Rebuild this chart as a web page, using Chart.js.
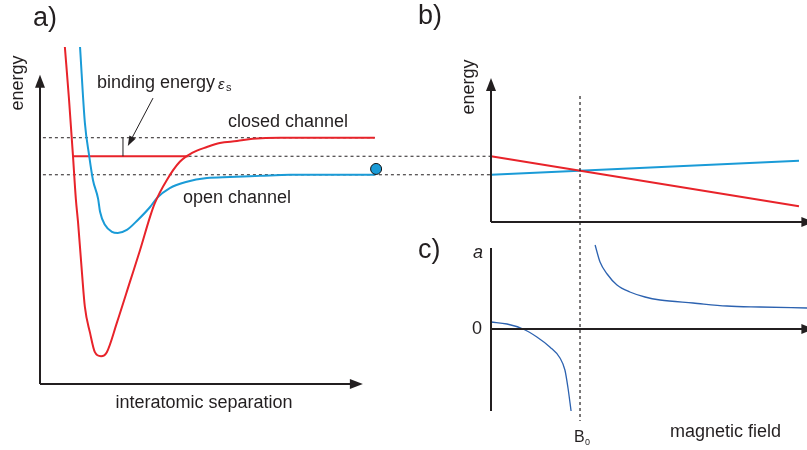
<!DOCTYPE html>
<html>
<head>
<meta charset="utf-8">
<script src="https://cdn.jsdelivr.net/npm/chart.js@4.4.1/dist/chart.umd.min.js"></script>
<style>
  html, body { margin: 0; padding: 0; background: #ffffff; }
  #wrap { position: relative; width: 807px; height: 450px; overflow: hidden; background: #ffffff; }
  #wrap canvas { position: absolute; left: 0; top: 0; }
</style>
</head>
<body>
<div id="wrap">
  <canvas id="panelA" width="807" height="450"></canvas>
  <canvas id="panelB" width="807" height="450"></canvas>
  <canvas id="panelC" width="807" height="450"></canvas>
</div>
<script>
// ---------- Panel a: molecular potentials vs. interatomic separation ----------
// energies in units where the open-channel threshold is 0 and the closed-channel threshold is 1
const closedSep    = [0.77, 0.90, 1.02, 1.11, 1.18, 1.30, 1.39, 1.55, 1.70, 1.89, 2.07, 2.38, 2.79, 3.10, 3.41, 3.56, 3.93, 4.33, 4.71, 5.17, 5.57, 6.10, 6.59, 7.43, 10.37];
const closedEnergy = [3.45, 2.02, 0.53, -0.65, -1.30, -2.65, -3.57, -4.27, -4.79, -4.90, -4.79, -4.00, -2.88, -2.03, -1.13, -0.76, -0.14, 0.35, 0.59, 0.75, 0.86, 0.91, 0.97, 1.00, 1.00];
const openSep      = [1.24, 1.39, 1.52, 1.64, 1.80, 1.86, 2.01, 2.23, 2.41, 2.69, 3.03, 3.41, 3.62, 4.02, 4.55, 5.17, 5.88, 6.81, 7.74, 10.37];
const openEnergy   = [3.45, 1.40, 0.53, -0.14, -0.65, -1.00, -1.35, -1.54, -1.57, -1.49, -1.22, -0.87, -0.63, -0.36, -0.19, -0.09, -0.06, -0.03, 0.00, 0.00];
const closedThreshold = 1.0;
const openThreshold   = 0.0;
const boundEnergy     = 0.5;
const boundSep        = [1.02, 4.60];       // bound molecular level inside the closed channel
const thresholdSepClosed = [0.09, 10.37];
const thresholdSepOpen   = [0.09, 13.96];
const boundDottedSep     = [4.60, 13.96];
const bindingMarkSep     = 2.57;
const bindingArrowFrom   = [3.50, 2.07];
const bindingArrowTo     = [2.72, 0.78];
const atomPair           = [10.41, 0.157];
const sepAxisEnd = 10.0, energyAxisTop = 2.70, energyAxisBottom = -5.65;

// ---------- Panel b: channel energies vs. magnetic field ----------
const fieldEnds     = [0, 10];
const closedVsField = [0.5, -0.85];
const openVsField   = [0.0, 0.38];
const resonanceField = 2.89;                 // B0

// ---------- Panel c: scattering length vs. magnetic field ----------
const lowBranchField  = [0, 0.52, 1.04, 1.49, 1.91, 2.24, 2.40, 2.50, 2.60];
const lowBranchA      = [0.35, 0.25, 0.00, -0.40, -0.90, -1.45, -2.05, -2.95, -4.10];
const highBranchField = [3.38, 3.54, 3.77, 4.09, 4.51, 5.00, 5.49, 6.56, 7.66, 8.73, 10.26];
const highBranchA     = [4.20, 3.35, 2.75, 2.20, 1.85, 1.60, 1.45, 1.30, 1.15, 1.10, 1.05];
const b0LineA = [11.65, -4.6];

// ---------- styling ----------
const RED = '#e8232a';
const CYAN = '#1a9bd7';
const NAVY = '#2c62b0';
const INK = '#231f20';
const FAMILY = '"Liberation Sans", Arial, Helvetica, sans-serif';

function pts(xs, ys) { return xs.map((x, i) => ({ x: x, y: ys[i] })); }

function curve(xs, ys, color, width, extra) {
  return Object.assign({
    data: pts(xs, ys), borderColor: color, borderWidth: width, pointRadius: 0,
    fill: false, clip: false, tension: 0, borderCapStyle: 'butt', order: 1
  }, extra || {});
}

function dotted(xs, ys) {
  return curve(xs, ys, INK, 1, { borderDash: [3, 3], order: 2 });
}

function arrowHead(ctx, x1, y1, x2, y2, len, half, color) {
  const a = Math.atan2(y2 - y1, x2 - x1);
  ctx.save();
  ctx.fillStyle = color;
  ctx.beginPath();
  ctx.moveTo(x2, y2);
  ctx.lineTo(x2 - len * Math.cos(a) + half * Math.sin(a), y2 - len * Math.sin(a) - half * Math.cos(a));
  ctx.lineTo(x2 - len * Math.cos(a) - half * Math.sin(a), y2 - len * Math.sin(a) + half * Math.cos(a));
  ctx.closePath();
  ctx.fill();
  ctx.restore();
}

function axisLine(ctx, x1, y1, x2, y2, withHead) {
  ctx.save();
  ctx.strokeStyle = INK;
  ctx.lineWidth = 2;
  const a = Math.atan2(y2 - y1, x2 - x1);
  const back = withHead ? 10 : 0;
  ctx.beginPath();
  ctx.moveTo(x1, y1);
  ctx.lineTo(x2 - back * Math.cos(a), y2 - back * Math.sin(a));
  ctx.stroke();
  ctx.restore();
  if (withHead) arrowHead(ctx, x1, y1, x2, y2, 13, 5, INK);
}

function text(ctx, str, x, y, size, opts) {
  opts = opts || {};
  ctx.save();
  ctx.font = (opts.style || '') + ' ' + size + 'px ' + FAMILY;
  ctx.fillStyle = INK;
  ctx.textAlign = opts.align || 'left';
  ctx.textBaseline = opts.baseline || 'alphabetic';
  if (opts.rotate) {
    ctx.translate(x, y);
    ctx.rotate(opts.rotate);
    ctx.fillText(str, 0, 0);
  } else {
    ctx.fillText(str, x, y);
  }
  ctx.restore();
}

function makeChart(id, padding, xRange, yRange, datasets, drawExtras) {
  return new Chart(document.getElementById(id), {
    type: 'line',
    data: { datasets: datasets },
    options: {
      responsive: false,
      animation: false,
      events: [],
      layout: { padding: padding },
      plugins: { legend: { display: false }, tooltip: { enabled: false }, title: { display: false } },
      scales: {
        x: { type: 'linear', min: xRange[0], max: xRange[1], display: false },
        y: { type: 'linear', min: yRange[0], max: yRange[1], display: false }
      }
    },
    plugins: [{
      id: 'schematicExtras',
      afterDatasetsDraw(chart) { drawExtras(chart.ctx, chart.scales.x, chart.scales.y); }
    }]
  });
}

// ---------- panel a ----------
makeChart('panelA', { left: 40, right: 315, top: 47, bottom: 66 }, [0, 14], [-5.65, 3.45], [
  {
    data: [{ x: atomPair[0], y: atomPair[1] }], showLine: false, pointRadius: 5.5,
    pointBackgroundColor: CYAN, pointBorderColor: '#111', pointBorderWidth: 1, clip: false, order: 0
  },
  curve(closedSep, closedEnergy, RED, 2, { cubicInterpolationMode: 'monotone' }),
  curve(openSep, openEnergy, CYAN, 2, { cubicInterpolationMode: 'monotone' }),
  curve(boundSep, [boundEnergy, boundEnergy], RED, 2),
  dotted(thresholdSepClosed, [closedThreshold, closedThreshold]),
  dotted(boundDottedSep, [boundEnergy, boundEnergy]),
  dotted(thresholdSepOpen, [openThreshold, openThreshold])
], function (ctx, x, y) {
  // axes
  axisLine(ctx, x.getPixelForValue(0), y.getPixelForValue(energyAxisBottom), x.getPixelForValue(0), y.getPixelForValue(energyAxisTop), true);
  axisLine(ctx, x.getPixelForValue(0), y.getPixelForValue(energyAxisBottom), x.getPixelForValue(sepAxisEnd), y.getPixelForValue(energyAxisBottom), true);

  // binding energy bracket and pointer
  ctx.save();
  ctx.strokeStyle = INK; ctx.lineWidth = 1;
  ctx.beginPath();
  ctx.moveTo(x.getPixelForValue(bindingMarkSep), y.getPixelForValue(boundEnergy));
  ctx.lineTo(x.getPixelForValue(bindingMarkSep), y.getPixelForValue(closedThreshold));
  ctx.stroke();
  const ax1 = x.getPixelForValue(bindingArrowFrom[0]), ay1 = y.getPixelForValue(bindingArrowFrom[1]);
  const ax2 = x.getPixelForValue(bindingArrowTo[0]), ay2 = y.getPixelForValue(bindingArrowTo[1]);
  const ang = Math.atan2(ay2 - ay1, ax2 - ax1);
  ctx.beginPath();
  ctx.moveTo(ax1, ay1);
  ctx.lineTo(ax2 - 7 * Math.cos(ang), ay2 - 7 * Math.sin(ang));
  ctx.stroke();
  ctx.restore();
  arrowHead(ctx, ax1, ay1, ax2, ay2, 10, 3.5, INK);

  // labels
  text(ctx, 'a)', 33, 26, 27);
  text(ctx, 'energy', 18, 83, 18, { rotate: -Math.PI / 2, align: 'center', baseline: 'middle' });
  text(ctx, 'binding energy', 97, 88, 18);
  text(ctx, 'ε', 218, 89, 15, { style: 'italic' });
  text(ctx, 's', 226, 91, 11);
  text(ctx, 'closed channel', 228, 127, 18);
  text(ctx, 'open channel', 183, 203, 18);
  text(ctx, 'interatomic separation', 204, 408, 18, { align: 'center' });
});

// ---------- panel b ----------
makeChart('panelB', { left: 491, right: 0, top: 78, bottom: 228 }, [0, 10.26], [-1.275, 2.614], [
  curve(fieldEnds, closedVsField, RED, 2),
  curve(fieldEnds, openVsField, CYAN, 2)
], function (ctx, x, y) {
  const x0 = x.getPixelForValue(0), yb = y.getPixelForValue(-1.275);
  axisLine(ctx, x0, yb, x0, y.getPixelForValue(2.614), true);
  axisLine(ctx, x0, yb, x.getPixelForValue(10.5), yb, true);
  text(ctx, 'b)', 418, 24, 27);
  text(ctx, 'energy', 469, 87, 18, { rotate: -Math.PI / 2, align: 'center', baseline: 'middle' });
});

// ---------- panel c ----------
makeChart('panelC', { left: 491, right: 0, top: 248, bottom: 39 }, [0, 10.26], [-4.1, 4.05], [
  curve(lowBranchField, lowBranchA, NAVY, 1.3, { cubicInterpolationMode: 'monotone' }),
  curve(highBranchField, highBranchA, NAVY, 1.3, { cubicInterpolationMode: 'monotone' }),
  curve([resonanceField, resonanceField], b0LineA, INK, 1.2, { borderDash: [3, 3], order: 2 })
], function (ctx, x, y) {
  const x0 = x.getPixelForValue(0), yz = y.getPixelForValue(0);
  axisLine(ctx, x0, y.getPixelForValue(-4.1), x0, y.getPixelForValue(4.05), false);
  axisLine(ctx, x0, yz, x.getPixelForValue(10.5), yz, true);
  text(ctx, 'c)', 418, 258, 27);
  text(ctx, '0', x0 - 9, yz, 18, { align: 'right', baseline: 'middle' });
  text(ctx, 'a', x0 - 18, 258, 18, { style: 'italic' });
  const bx = x.getPixelForValue(resonanceField);
  text(ctx, 'B', bx - 6, 442, 16);
  text(ctx, '0', bx + 5, 445, 9);
  text(ctx, 'magnetic field', 670, 437, 18);
});
</script>
</body>
</html>
